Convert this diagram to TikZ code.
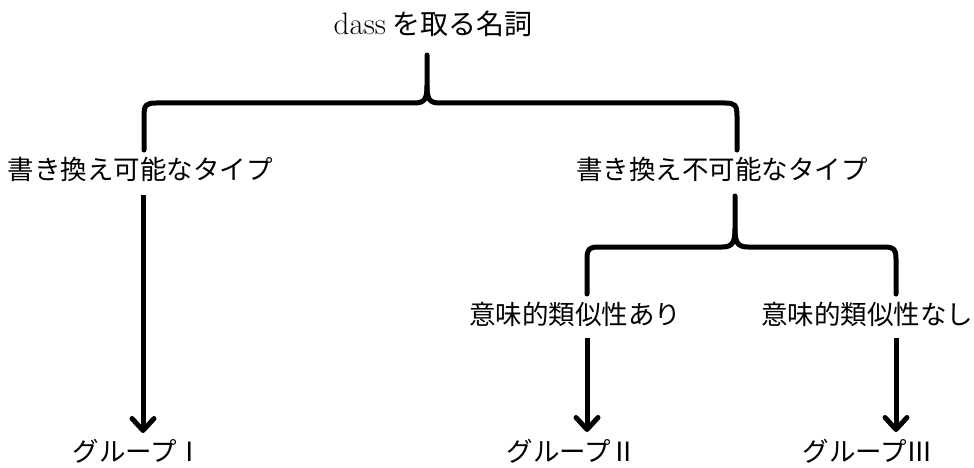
\documentclass[tikz,border=0pt]{standalone}
\usepackage{fontspec}
\newfontfamily\jp{Noto Sans CJK JP}
\usetikzlibrary{arrows.meta}
\begin{document}
\begin{tikzpicture}[x=1pt,y=-1pt,
  lbl/.style={font=\fontsize{26.5}{30}\selectfont\jp, inner sep=0pt, anchor=center},
  bracestroke/.style={line width=5pt, line cap=round, line join=round},
  arr/.style={line width=5pt, -{Straight Barb[length=12pt,width=22pt,round]}}]
\useasboundingbox (0,0) rectangle (974,468);
% texts
\node[lbl, font=\fontsize{28}{30}\selectfont\jp] (T) at (433,24) {{\fontsize{31}{32}\selectfont\rmfamily dass} を取る名詞};
\node[lbl] (L) at (140,169) {書き換え可能なタイプ};
\node[lbl] (R) at (722,169) {書き換え不可能なタイプ};
\node[lbl] (RA) at (575,314) {意味的類似性あり};
\node[lbl] (RB) at (867,314) {意味的類似性なし};
\node[lbl] (G1) at (138,451) {グループⅠ};
\node[lbl] (G2) at (572,451) {グループⅡ};
\node[lbl] (G3) at (868,451) {グループⅢ};
% top brace
\coordinate (tip1) at (427,55);
\coordinate (lb1) at (144,150);
\coordinate (rb1) at (737,150);
\draw[bracestroke] (lb1) -- (144,116) .. controls (144,105) and (146,103) .. (156,103)
  -- (414,103) .. controls (424,103) and (427,100) .. (427,86) -- (tip1);
\draw[bracestroke] (rb1) -- (737,116) .. controls (737,105) and (735,103) .. (725,103)
  -- (440,103) .. controls (430,103) and (427,100) .. (427,86);
% lower brace
\coordinate (tip2) at (735,196);
\coordinate (lb2) at (587,294);
\coordinate (rb2) at (896,294);
\draw[bracestroke] (lb2) -- (587,259) .. controls (587,249) and (589,247) .. (599,247)
  -- (722,247) .. controls (732,247) and (735,243) .. (735,229) -- (tip2);
\draw[bracestroke] (rb2) -- (896,259) .. controls (896,249) and (894,247) .. (884,247)
  -- (748,247) .. controls (738,247) and (735,243) .. (735,229);
% arrows
\coordinate (a1s) at (143,195);
\coordinate (a2s) at (587,338);
\coordinate (a3s) at (896,338);
\draw[arr] (a1s) -- (a1s |- 0,433);
\draw[arr] (a2s) -- (a2s |- 0,432);
\draw[arr] (a3s) -- (a3s |- 0,432);
\end{tikzpicture}
\end{document}
